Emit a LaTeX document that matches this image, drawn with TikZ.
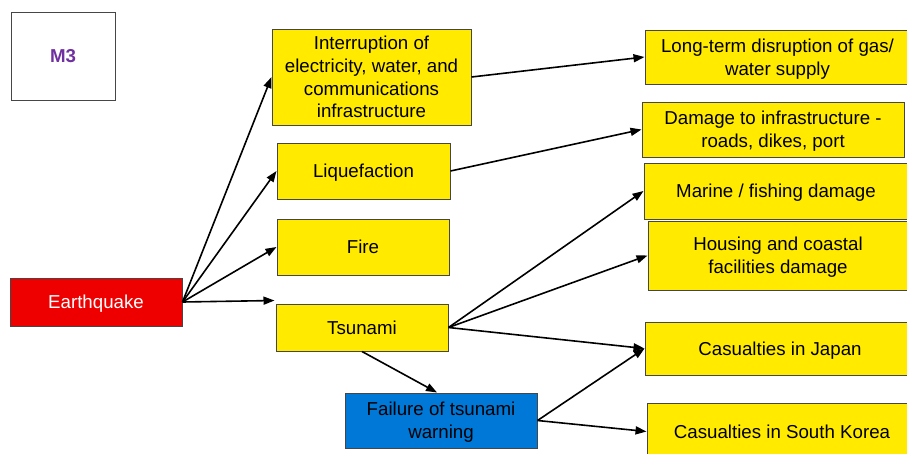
\documentclass[tikz,border=0pt]{standalone}
\usepackage{fontspec}
\setmainfont{Liberation Sans}
\usetikzlibrary{arrows.meta,calc}
\definecolor{boxyellow}{RGB}{255,234,0}
\definecolor{quakered}{RGB}{238,0,0}
\definecolor{warnblue}{RGB}{0,120,215}
\definecolor{labelpurple}{RGB}{112,48,160}
\definecolor{edgegray}{RGB}{70,70,70}
\begin{document}
\begin{tikzpicture}[x=1pt,y=-1pt,
  box/.style={draw=edgegray, line width=1pt, fill=boxyellow, align=center,
    inner sep=0pt, text depth=0pt, font=\fontsize{18.7}{22.7}\selectfont},
  multiline/.style={text depth=-4pt},
  link/.style={-{Triangle[length=11pt,width=8pt]}, line width=1.6pt, black}]
\useasboundingbox (0,0) rectangle (907,453);

% tag box
\node[box, fill=white, minimum width=104pt, minimum height=88pt,
  text=labelpurple, font=\fontsize{18.7}{22.7}\selectfont\bfseries] (m3) at (63,56) {M3};

% source event
\node[box, fill=quakered, text=white, minimum width=172pt, minimum height=48pt] (eq) at (96,302) {Earthquake};

% first-order effects
\node[box, multiline, minimum width=199pt, minimum height=96pt] (intr) at (371.5,77)
  {Interruption of\\electricity, water, and\\communications\\infrastructure};
\node[box, minimum width=173pt, minimum height=56pt] (liq) at (363.5,171) {Liquefaction};
\node[box, minimum width=172pt, minimum height=56pt] (fire) at (363,247) {Fire};
\node[box, minimum width=172pt, minimum height=47pt] (tsu) at (362,327.5) {Tsunami};
\node[box, multiline, fill=warnblue, minimum width=192pt, minimum height=55pt] (fail) at (441,420.5)
  {Failure of tsunami\\warning};

% consequences
\node[box, multiline, minimum width=265pt, minimum height=54pt] (lt) at (777.5,57)
  {Long-term disruption of gas/\\water supply};
\node[box, multiline, minimum width=262pt, minimum height=55pt] (dmg) at (773,129.5)
  {Damage to infrastructure -\\roads, dikes, port};
\node[box, minimum width=264pt, minimum height=56pt] (mar) at (776,191) {Marine / fishing damage};
\node[box, multiline, minimum width=260pt, minimum height=69pt] (hou) at (778,255.5)
  {Housing and coastal\\facilities damage};
\node[box, minimum width=270pt, minimum height=53pt] (jap) at (780,348.5) {Casualties in Japan};
\node[box, minimum width=270pt, minimum height=56pt] (kor) at (782,431.5) {Casualties in South Korea};

% connectors
\draw[link] (eq.east) -- (intr.west);
\draw[link] (eq.east) -- (liq.west);
\draw[link] (eq.east) -- (fire.west);
\draw[link] (eq.east) -- ($(tsu.north west)+(-1pt,3pt)$);
\draw[link] (intr.east) -- (lt.west);
\draw[link] (liq.east) -- (dmg.west);
\draw[link] (tsu.east) -- (mar.west);
\draw[link] (tsu.east) -- (hou.west);
\draw[link] (tsu.east) -- (jap.west);
\draw[link] (tsu.south) -- ($(fail.north)+(-4pt,0pt)$);
\draw[link] (fail.east) -- (jap.west);
\draw[link] (fail.east) -- (kor.west);
\end{tikzpicture}
\end{document}
